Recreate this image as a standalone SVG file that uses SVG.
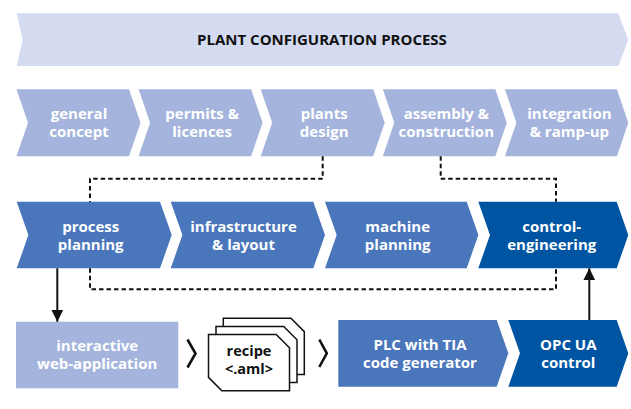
<svg xmlns="http://www.w3.org/2000/svg" width="631" height="409" viewBox="0 0 631 409">
  <style>
    .lbl { font-family: "Open Sans", "Liberation Sans", sans-serif; font-weight: 700; font-size: 15px; fill: #ffffff; text-anchor: middle; }
    .dark { fill: #111111; }
    .doctext { font-size: 14.5px; }
    .banner { fill: #d4daef; }
    .light { fill: #a4b4dd; }
    .mid { fill: #4a76bc; }
    .deep { fill: #0055a3; }
    .dash { fill: none; stroke: #111111; stroke-width: 2; stroke-dasharray: 4.5 3; }
    .solid { fill: none; stroke: #111111; stroke-width: 2; }
    .sep { fill: none; stroke: #111111; stroke-width: 2.6; stroke-linejoin: miter; }
    .doc { fill: #ffffff; stroke: #111111; stroke-width: 1.5; stroke-linejoin: miter; }
  </style>
  <defs>
    <marker id="head" viewBox="0 0 12 15" refX="12" refY="7.5" markerWidth="12" markerHeight="15" markerUnits="userSpaceOnUse" orient="auto">
      <path d="M0,1.5 L12,7.5 L0,13.5 Z" fill="#111111"/>
    </marker>
  </defs>

  <!-- overall banner -->
  <g id="plant-configuration-process">
    <polygon class="banner" points="16.7,13.3 618.3,13.3 628.3,39.7 618.3,66 16.7,66 22.7,39.7"/>
    <text class="lbl dark" x="322" y="45">PLANT CONFIGURATION PROCESS</text>
  </g>

  <!-- phase row -->
  <g id="general-concept" transform="translate(16.5,89.3)">
    <polygon class="light" points="0,0 112.5,0 124,33.5 112.5,67 0,67 11.5,33.5"/>
    <text class="lbl" x="62.5" y="29.8">general</text>
    <text class="lbl" x="62.5" y="48">concept</text>
  </g>
  <g id="permits-licences" transform="translate(138.6,89.3)">
    <polygon class="light" points="0,0 112.5,0 124,33.5 112.5,67 0,67 11.5,33.5"/>
    <text class="lbl" x="63.5" y="29.8">permits &amp;</text>
    <text class="lbl" x="63.5" y="48">licences</text>
  </g>
  <g id="plants-design" transform="translate(260.7,89.3)">
    <polygon class="light" points="0,0 112.5,0 124,33.5 112.5,67 0,67 11.5,33.5"/>
    <text class="lbl" x="63.5" y="29.8">plants</text>
    <text class="lbl" x="63.5" y="48">design</text>
  </g>
  <g id="assembly-construction" transform="translate(382.8,89.3)">
    <polygon class="light" points="0,0 112.5,0 124,33.5 112.5,67 0,67 11.5,33.5"/>
    <text class="lbl" x="63.5" y="29.8">assembly &amp;</text>
    <text class="lbl" x="63.5" y="48">construction</text>
  </g>
  <g id="integration-ramp-up" transform="translate(504.9,89.3)">
    <polygon class="light" points="0,0 112,0 123.4,33.5 112,67 0,67 11.5,33.5"/>
    <text class="lbl" x="64.5" y="29.8">integration</text>
    <text class="lbl" x="64.5" y="48">&amp; ramp-up</text>
  </g>

  <!-- planning row -->
  <g id="process-planning" transform="translate(16.7,201.7)">
    <polygon class="mid" points="0,0 143.3,0 155,33.3 143.3,66.6 0,66.6 11.7,33.3"/>
    <text class="lbl" x="74" y="30">process</text>
    <text class="lbl" x="74" y="48.3">planning</text>
  </g>
  <g id="infrastructure-layout" transform="translate(170.7,201.7)">
    <polygon class="mid" points="0,0 142.6,0 154.3,33.3 142.6,66.6 0,66.6 11.7,33.3"/>
    <text class="lbl" x="72.8" y="30">infrastructure</text>
    <text class="lbl" x="72.8" y="48.3">&amp; layout</text>
  </g>
  <g id="machine-planning" transform="translate(325,201.7)">
    <polygon class="mid" points="0,0 141.7,0 153.4,33.3 141.7,66.6 0,66.6 11.7,33.3"/>
    <text class="lbl" x="72.7" y="30">machine</text>
    <text class="lbl" x="72.7" y="48.3">planning</text>
  </g>
  <g id="control-engineering" transform="translate(478.3,201.7)">
    <polygon class="deep" points="0,0 138.4,0 150,33.3 138.4,66.6 0,66.6 11.7,33.3"/>
    <text class="lbl" x="73.4" y="30">control-</text>
    <text class="lbl" x="73.4" y="48.3">engineering</text>
  </g>

  <!-- tool chain row -->
  <g id="interactive-web-application">
    <rect class="light" x="16" y="321.7" width="162.3" height="66.6"/>
    <text class="lbl" x="97.2" y="351">interactive</text>
    <text class="lbl" x="97.2" y="369.2">web-application</text>
  </g>
  <g id="recipe-aml">
    <polygon class="doc" points="223.3,318.3 291,318.3 304.3,331.6 304.3,374.5 236.6,374.5 223.3,361.2"/>
    <polygon class="doc" points="216,326.4 283.7,326.4 297,339.7 297,382.6 229.3,382.6 216,369.3"/>
    <polygon class="doc" points="208.5,334.5 276.2,334.5 289.5,347.8 289.5,390.7 221.8,390.7 208.5,377.4"/>
    <text class="lbl dark doctext" x="249" y="355.8">recipe</text>
    <text class="lbl dark doctext" x="249" y="373.6">&lt;.aml&gt;</text>
  </g>
  <g id="plc-tia-code-generator">
    <polygon class="mid" points="338.3,320 496.7,320 508.3,353.3 496.7,386.7 338.3,386.7"/>
    <text class="lbl" x="420" y="350">PLC with TIA</text>
    <text class="lbl" x="420" y="368.3">code generator</text>
  </g>
  <g id="opc-ua-control">
    <polygon class="deep" points="508.3,320 616.7,320 628.3,353.3 616.7,386.7 508.3,386.7 520,353.3"/>
    <text class="lbl" x="568.3" y="350">OPC UA</text>
    <text class="lbl" x="568.3" y="368.3">control</text>
  </g>

  <!-- connectors -->
  <g id="connectors">
    <path class="dash" d="M322.7,156.3 V178.8 H90 V201.7"/>
    <path class="dash" d="M440.7,156.3 V178.8 H556 V201.7"/>
    <path class="dash" d="M90,268.3 V289.3 H556 V268.3"/>
    <path class="solid" d="M57.3,268.3 V321.7" marker-end="url(#head)"/>
    <path class="solid" d="M589.3,320 V268.3" marker-end="url(#head)"/>
    <polyline class="sep" points="187.5,339.5 195.5,353.5 187.5,367.5"/>
    <polyline class="sep" points="319.3,339.5 326.8,353.3 319.3,367"/>
  </g>
</svg>
